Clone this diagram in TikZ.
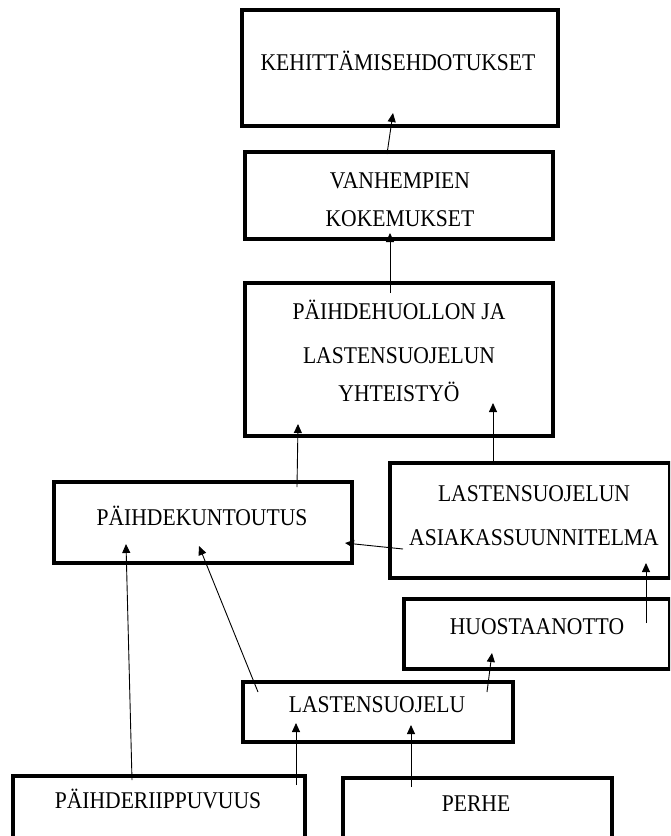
\documentclass[tikz,border=0pt]{standalone}
\usepackage{fontspec}
\setmainfont[FakeStretch=0.9]{Liberation Serif}
\usetikzlibrary{arrows.meta}
\tikzset{
  box/.style={draw=black, line width=3.2pt, fill=none},
  txt/.style={anchor=base, inner sep=0pt, font=\fontsize{24}{28}\selectfont},
  conn/.style={line width=0.9pt, -{Triangle[length=9pt,width=8pt]}},
}
\begin{document}
\begin{tikzpicture}[x=1pt,y=-1pt]
\useasboundingbox (0,0) rectangle (670,836);
\clip (0,0) rectangle (670,836);
% boxes
\node[box, minimum width=316pt, minimum height=116pt] (keh) at (400,68) {};
\node[box, minimum width=308pt, minimum height=87pt] (van) at (399,195.5) {};
\node[box, minimum width=308pt, minimum height=153pt] (ph) at (399,359.5) {};
\node[box, minimum width=298pt, minimum height=81pt] (pk) at (203,522.5) {};
\node[box, minimum width=280pt, minimum height=115pt] (la) at (530,520.5) {};
\node[box, minimum width=266pt, minimum height=70pt] (huo) at (537,634) {};
\node[box, minimum width=270pt, minimum height=60pt] (ls) at (378,712) {};
\node[box, minimum width=292pt, minimum height=74pt] (pr) at (159,813) {};
\node[box, minimum width=269pt, minimum height=72pt] (perhe) at (477.5,814) {};
% texts
\node[txt] (keh-t) at (398,70) {KEHITTÄMISEHDOTUKSET};
\node[txt] (van-t1) at (400,188) {VANHEMPIEN};
\node[txt] (van-t2) at (400,226) {KOKEMUKSET};
\node[txt] (ph-t1) at (399,319) {PÄIHDEHUOLLON JA};
\node[txt] (ph-t2) at (399,363) {LASTENSUOJELUN};
\node[txt] (ph-t3) at (399,401) {YHTEISTYÖ};
\node[txt] (pk-t) at (202,525) {PÄIHDEKUNTOUTUS};
\node[txt] (la-t1) at (534,501) {LASTENSUOJELUN};
\node[txt] (la-t2) at (534,545) {ASIAKASSUUNNITELMA};
\node[txt] (huo-t) at (537,634) {HUOSTAANOTTO};
\node[txt] (ls-t) at (377,712) {LASTENSUOJELU};
\node[txt] (pr-t) at (158,808) {PÄIHDERIIPPUVUUS};
\node[txt] (perhe-t) at (476,811) {PERHE};
% connector end points
\coordinate (c1a) at (387,154);  \coordinate (c1b) at (393,113);
\coordinate (c2a) at (390,293);  \coordinate (c2b) at (390,233);
\coordinate (c3a) at (297,487);  \coordinate (c3b) at (298,424);
\coordinate (c4a) at (493,463);  \coordinate (c4b) at (493,403);
\coordinate (c5a) at (403,549);  \coordinate (c5b) at (345,543);
\coordinate (c6a) at (646,623);  \coordinate (c6b) at (646,563);
\coordinate (c7a) at (487,692);  \coordinate (c7b) at (492,653);
\coordinate (c8a) at (258,692);  \coordinate (c8b) at (199,546);
\coordinate (c9a) at (132,780);  \coordinate (c9b) at (126,544);
\coordinate (c10a) at (296,785); \coordinate (c10b) at (296,723);
\coordinate (c11a) at (411,787); \coordinate (c11b) at (411,725);
% connectors
\draw[conn] (c1a) -- (c1b);
\draw[conn] (c2a) -- (c2b);
\draw[conn] (c3a) -- (c3b);
\draw[conn] (c4a) -- (c4b);
\draw[conn] (c5a) -- (c5b);
\draw[conn] (c6a) -- (c6b);
\draw[conn] (c7a) -- (c7b);
\draw[conn] (c8a) -- (c8b);
\draw[conn] (c9a) -- (c9b);
\draw[conn] (c10a) -- (c10b);
\draw[conn] (c11a) -- (c11b);
\end{tikzpicture}
\end{document}
